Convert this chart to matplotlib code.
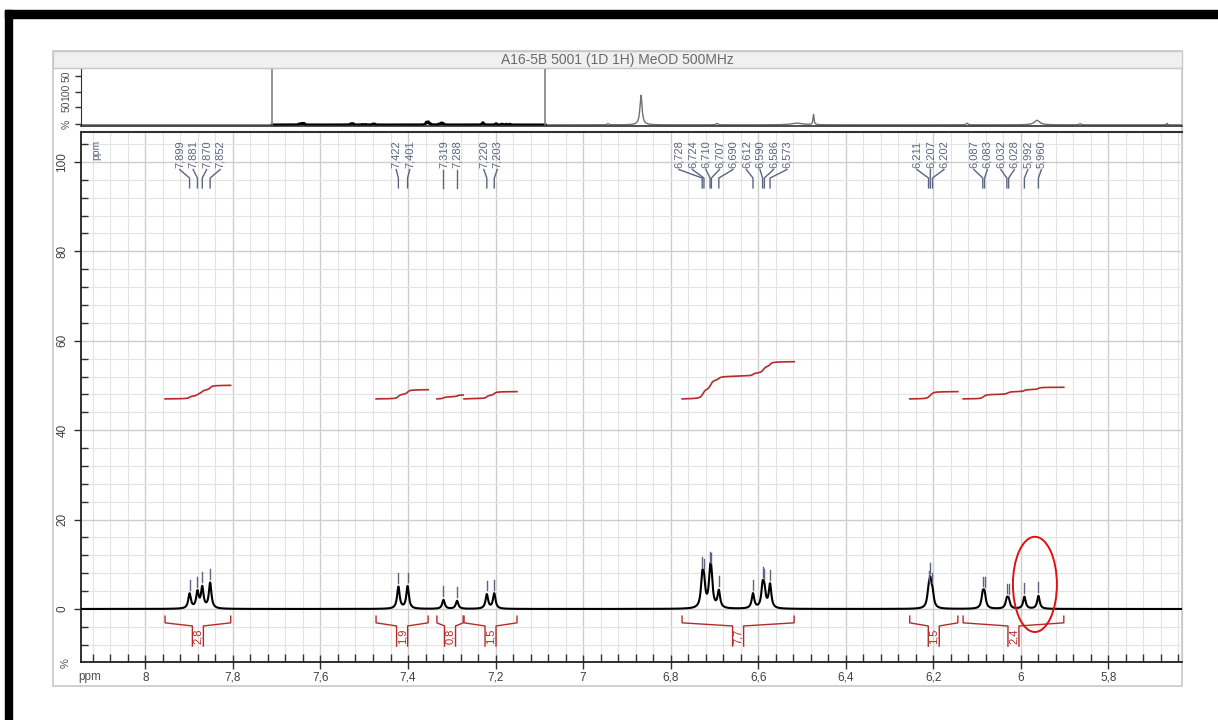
import numpy as np
import matplotlib
matplotlib.use("Agg")
import matplotlib.pyplot as plt
from matplotlib.patches import Rectangle, Ellipse
from matplotlib.ticker import MultipleLocator, FixedLocator, FuncFormatter

# ---------------- data ----------------
title = "A16-5B 5001 (1D 1H) MeOD 500MHz"

peak_ppm = [7.899, 7.881, 7.870, 7.852, 7.422, 7.401, 7.319, 7.288, 7.220, 7.203,
            6.728, 6.724, 6.710, 6.707, 6.690, 6.612, 6.590, 6.586, 6.573,
            6.211, 6.207, 6.202, 6.087, 6.083, 6.032, 6.028, 5.992, 5.960]
peak_height = [3.3, 3.6, 4.6, 5.7, 4.9, 5.0, 2.0, 1.8, 3.2, 3.4,
               6.0, 5.0, 6.0, 5.5, 3.8, 3.3, 4.5, 3.5, 5.3,
               3.0, 5.0, 3.0, 3.0, 2.8, 1.9, 1.7, 2.7, 2.9]
peak_labels = [f"{p:.3f}".replace(".", ",") for p in peak_ppm]

int_start = [7.955, 7.473, 7.334, 7.272, 6.774, 6.254, 6.132]
int_end = [7.805, 7.354, 7.274, 7.151, 6.518, 6.144, 5.902]
int_value = [2.8, 1.9, 0.8, 1.5, 7.7, 1.5, 2.4]

# overview spectrum (full range) peaks outside the zoomed region
ov_ppm = [5.056, 4.752, 4.053, 3.317, 3.165, 1.753, 1.109, 0.713, -0.087]
ov_height = [2.0, 52.0, 2.5, 3.0, 18.0, 3.0, 8.0, 2.0, 2.5]
ov_width = [0.01, 0.012, 0.01, 0.06, 0.006, 0.01, 0.03, 0.01, 0.005]

x_ticks = [8.0, 7.8, 7.6, 7.4, 7.2, 7.0, 6.8, 6.6, 6.4, 6.2, 6.0, 5.8]
y_ticks = [0, 20, 40, 60, 80, 100]

# ---------------- layout ----------------
W, H = 1218, 720
fig = plt.figure(figsize=(W / 100, H / 100), dpi=100)
fig.patch.set_facecolor("white")

def fx(x):
    return x / W

def fy(y):
    return 1 - y / H

def frect(x0, y0, x1, y1, **kw):
    fig.patches.append(Rectangle((fx(x0), fy(y1)), fx(x1) - fx(x0), fy(y0) - fy(y1),
                                 transform=fig.transFigure, zorder=-10, **kw))

frect(5, 10, 1218, 18, color="black")
frect(5, 10, 12, 720, color="black")
frect(53, 51, 1182, 686, facecolor="white", edgecolor="#c8c8c8", lw=1.2)
frect(53, 51, 1182, 68, facecolor="#f0f0f0", edgecolor="#c8c8c8", lw=1.0)
fig.text(fx(617), fy(60), title, ha="center", va="center", fontsize=10,
         color="#6a6a6a", family="Liberation Sans")

x_left, x_right = 8.147, 5.632
y_bot, y_top = -11.86, 106.7

ax = fig.add_axes([fx(81), fy(662), fx(1182) - fx(81), fy(132) - fy(662)])
ax.set_xlim(x_left, x_right)
ax.set_ylim(y_bot, y_top)
ax.patch.set_alpha(0)

# spectrum
ppm = np.linspace(x_left, x_right, 8000)
g = 0.0035
spec = np.zeros_like(ppm)
for p, h in zip(peak_ppm, peak_height):
    spec += h * g**2 / ((ppm - p) ** 2 + g**2)

ax.plot(ppm, spec, color="black", lw=1.5, zorder=5)

# grid
ax.xaxis.set_major_locator(FixedLocator(x_ticks))
ax.xaxis.set_minor_locator(MultipleLocator(0.04))
ax.yaxis.set_major_locator(FixedLocator(y_ticks))
ax.yaxis.set_minor_locator(MultipleLocator(4))
ax.grid(which="minor", color="#e3e3e3", lw=0.8, zorder=0)
ax.grid(which="major", color="#cdcdcd", lw=1.0, zorder=0)
ax.set_axisbelow(True)

ax.xaxis.set_major_formatter(FuncFormatter(lambda v, pos: f"{v:g}".replace(".", ",")))
ax.tick_params(axis="x", which="major", direction="inout", length=10, width=1,
               colors="#303030", labelsize=8.5, pad=2, labelcolor="#404040")
ax.tick_params(axis="x", which="minor", direction="in", length=6, width=1, colors="#303030")
ax.tick_params(axis="y", which="major", direction="out", length=5, width=1,
               colors="#303030", labelsize=8.5, pad=4, labelcolor="#404040")
ax.tick_params(axis="y", which="minor", direction="in", length=5, width=1, colors="#303030")
ax.set_yticklabels([str(v) for v in y_ticks], rotation=90, va="center")
for lab in ax.get_xticklabels() + ax.get_yticklabels():
    lab.set_family("Liberation Sans")

for s in ["left", "bottom"]:
    ax.spines[s].set_color("#202020")
    ax.spines[s].set_linewidth(1.3)
ax.spines["top"].set_color("#303030")
ax.spines["top"].set_linewidth(1.5)
ax.spines["right"].set_color("#c8c8c8")

lab_col = "#5c6580"
ax.text(8.111, 102.7, "ppm", rotation=90, ha="center", va="center", fontsize=7.5,
        color=lab_col, family="Liberation Sans")
fig.text(fx(90), fy(677), "ppm", ha="center", va="center", fontsize=8.5,
         color="#505050", family="Liberation Sans")
fig.text(fx(66), fy(663), "%", rotation=90, ha="center", va="center", fontsize=8,
         color="#505050", family="Liberation Sans")

# peak markers above peaks
top_vals = np.interp(peak_ppm, ppm[::-1], spec[::-1])
for p, t in zip(peak_ppm, top_vals):
    ax.plot([p, p], [t + 0.8, t + 3.0], color=lab_col, lw=1.0, zorder=6)

def spread(pos, dmin):
    u = -np.array(pos, dtype=float)
    order = np.argsort(u)
    u = u[order]
    for _ in range(2000):
        moved = False
        for i in range(len(u) - 1):
            gap = u[i + 1] - u[i]
            if gap < dmin - 1e-9:
                sh = (dmin - gap) / 2
                u[i] -= sh
                u[i + 1] += sh
                moved = True
        if not moved:
            break
    res = np.empty_like(u)
    res[order] = u
    return -res

label_pos = spread(peak_ppm, 13.5 / 437.7)
for p, lp, txt in zip(peak_ppm, label_pos, peak_labels):
    ax.text(lp, 98.6, txt, rotation=90, ha="center", va="bottom", fontsize=8,
            color=lab_col, family="Liberation Sans", zorder=6)
    ax.plot([lp, p, p], [98.3, 96.4, 94.2], color=lab_col, lw=1.0, zorder=6)

# integrals
int_col = "#b52a2a"
for s, e, v in zip(int_start, int_end, int_value):
    m = (ppm <= s) & (ppm >= e)
    xs = ppm[m]
    cs = np.cumsum(spec[m])
    cs = (cs - cs[0]) / (cs[-1] - cs[0])
    ax.plot(xs, 47 + cs * v * 1.08, color=int_col, lw=1.2, zorder=4)
    c = (s + e) / 2
    w = 5.5 / 437.7
    ax.plot([s, s, c + w, c + w], [-1.6, -3.1, -3.8, -8.3], color=int_col, lw=1.0, zorder=4)
    ax.plot([e, e, c - w, c - w], [-1.6, -3.1, -3.8, -8.3], color=int_col, lw=1.0, zorder=4)
    ax.text(c, -6.2, f"{v:.1f}".replace(".", ","), rotation=90, ha="center", va="center",
            fontsize=8, color=int_col, family="Liberation Sans", zorder=4)

ax.add_patch(Ellipse((5.968, 5.5), width=0.1005, height=21.3, fill=False,
                     edgecolor="#e01010", lw=1.4, zorder=7))

# ---------------- overview ----------------
ov_left, ov_right = 9.904, -0.225
ax2 = fig.add_axes([fx(81), fy(126), fx(1182) - fx(81), fy(68) - fy(126)])
ax2.set_xlim(ov_left, ov_right)
ax2.set_ylim(-2, 100)
ax2.patch.set_alpha(0)
oppm = np.linspace(ov_left, ov_right, 12000)
ospec = np.zeros_like(oppm)
for p, h, w in zip(ov_ppm, ov_height, ov_width):
    ospec += h * w**2 / ((oppm - p) ** 2 + w**2)
inside = (oppm <= x_left) & (oppm >= x_right)
zspec = np.zeros_like(oppm)
for p, h in zip(peak_ppm, peak_height):
    zspec += 0.45 * h * (0.006) ** 2 / ((oppm - p) ** 2 + 0.006**2)
left_m = oppm > x_left
right_m = oppm < x_right
ax2.plot(oppm[left_m], ospec[left_m], color="#707070", lw=1.0)
ax2.plot(oppm[right_m], ospec[right_m], color="#707070", lw=1.0)
ax2.plot(oppm[inside], zspec[inside], color="black", lw=2.0)
ax2.axvline(x_left, color="#808080", lw=1.2)
ax2.axvline(x_right, color="#808080", lw=1.2)
ax2.set_xticks([])
ax2.yaxis.set_major_locator(FixedLocator([1, 32, 58, 86]))
ax2.set_yticklabels(["%", "50", "100", "50"], rotation=90, va="center")
ax2.tick_params(axis="y", direction="out", length=4, width=1, colors="#303030",
                labelsize=7.5, pad=3, labelcolor="#505050")
for lab in ax2.get_yticklabels():
    lab.set_family("Liberation Sans")
ax2.spines["left"].set_color("#303030")
ax2.spines["bottom"].set_color("#303030")
ax2.spines["bottom"].set_linewidth(1.2)
ax2.spines["top"].set_color("#c8c8c8")
ax2.spines["right"].set_color("#c8c8c8")

fig.savefig("out.png", dpi=100)
